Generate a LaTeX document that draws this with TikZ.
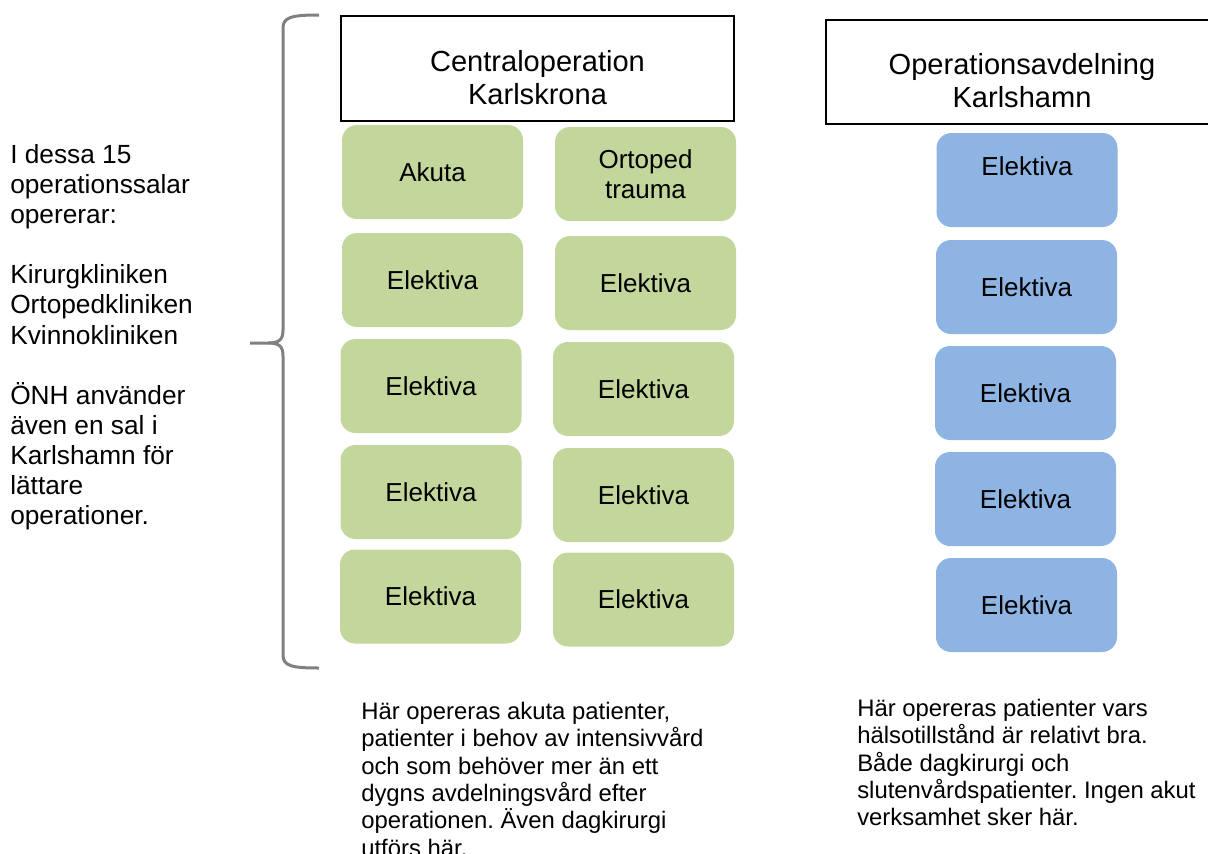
\documentclass[tikz,border=0pt]{standalone}
\usepackage{fontspec}
\setmainfont{Liberation Sans}
\frenchspacing
\definecolor{boxgreen}{HTML}{C3D69B}
\definecolor{boxblue}{HTML}{8EB4E3}
\definecolor{bracegray}{HTML}{808080}
\begin{document}
\frenchspacing
\begin{tikzpicture}[x=0.75pt,y=-0.75pt,
  room/.style={rectangle, rounded corners=11.25pt, minimum width=135.75pt, minimum height=70.5pt, inner sep=0pt, align=center, font=\fontsize{19.5}{22.5}\selectfont},
  greenroom/.style={room, fill=boxgreen},
  blueroom/.style={room, fill=boxblue},
  header/.style={draw=black, line width=1.2pt, rectangle, inner sep=0pt},
  headtext/.style={align=center, inner sep=0pt, font=\fontsize{21.8}{24.75}\selectfont},
  note/.style={align=left, inner sep=0pt, anchor=north west},
  bracestyle/.style={draw=bracegray, line width=2.25pt, line cap=butt, line join=round}
]
\useasboundingbox (0,0) rectangle (1208,854);
\clip (0,0) rectangle (1208,854);

% headers
\node[header, minimum width=294.75pt, minimum height=78.75pt] (hc) at (537.5,68.5) {};
\node[headtext] (hct) at ([yshift=-7pt]hc.center) {Centraloperation\\Karlskrona};
\node[header, minimum width=294pt, minimum height=78pt] (hk) at (1022,72) {};
\node[headtext] (hkt) at ([yshift=-6.8pt]hk.center) {Operationsavdelning\\Karlshamn};

% green rooms, left column
\node[greenroom] (g1l) at (432.5,172) {Akuta};
\node[greenroom] (g2l) at (432.5,280) {Elektiva};
\node[greenroom] (g3l) at (431,386) {Elektiva};
\node[greenroom] (g4l) at (431,492) {Elektiva};
\node[greenroom] (g5l) at (430.5,596.5) {Elektiva};
% green rooms, right column
\node[greenroom] (g1r) at (645.5,174) {Ortoped\\trauma};
\node[greenroom] (g2r) at (645.5,283) {Elektiva};
\node[greenroom] (g3r) at (643.5,389) {Elektiva};
\node[greenroom] (g4r) at (643.5,495) {Elektiva};
\node[greenroom] (g5r) at (643.5,599.5) {Elektiva};

% blue rooms
\node[blueroom] (b1) at (1027,180) {};
\node[room, fill=none] (b1t) at (1027,166) {Elektiva};
\node[blueroom] (b2) at (1026.5,287) {Elektiva};
\node[blueroom] (b3) at (1025.5,393) {Elektiva};
\node[blueroom] (b4) at (1025.5,499) {Elektiva};
\node[blueroom] (b5) at (1026.5,605) {Elektiva};

% brace
\draw[bracestyle] (319,15) .. controls (292,15) and (283,17) .. (283,28) -- (283,330)
  .. controls (283,340) and (279,343) .. (268,343) -- (250,343);
\draw[bracestyle] (268,343) .. controls (279,343) and (283,346) .. (283,356) -- (283,655)
  .. controls (283,666) and (292,668) .. (319,668);

% left text
\node[note, font=\fontsize{19.7}{22.6}\selectfont] (lt) at (10,144)
  {I dessa 15\\operationssalar\\opererar:\\[22.6pt]Kirurgkliniken\\Ortopedkliniken\\Kvinnokliniken\\[22.6pt]ÖNH använder\\även en sal i\\Karlshamn för\\lättare\\operationer.};

% bottom texts
\node[note, font=\fontsize{17.9}{20.5}\selectfont] (bl) at (361,702)
  {Här opereras akuta patienter,\\patienter i behov av intensivvård\\och som behöver mer än ett\\dygns avdelningsvård efter\\operationen. Även dagkirurgi\\utförs här.};
\node[note, font=\fontsize{17.9}{20.5}\selectfont] (br) at (857,699)
  {Här opereras patienter vars\\hälsotillstånd är relativt bra.\\Både dagkirurgi och\\slutenvårdspatienter. Ingen akut\\verksamhet sker här.};
\end{tikzpicture}
\end{document}
